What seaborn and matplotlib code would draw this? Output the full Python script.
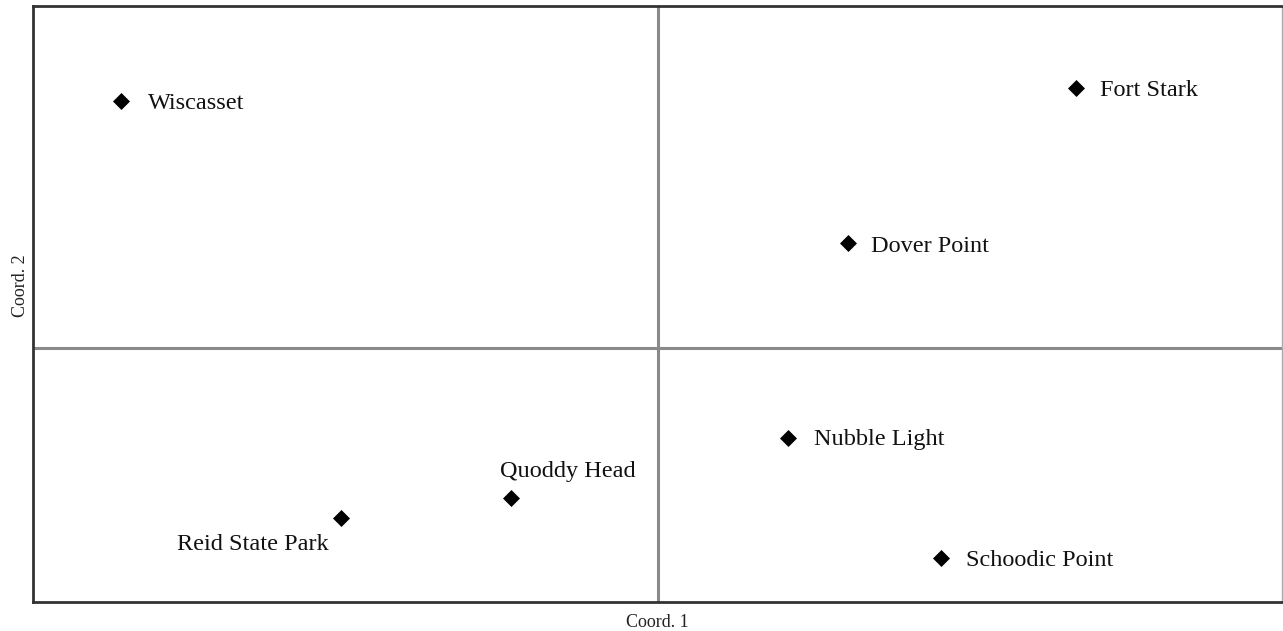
import matplotlib
matplotlib.use("Agg")
import matplotlib.pyplot as plt
import seaborn as sns
import pandas as pd

# Site ordination scores (principal coordinates)
sites = ["Wiscasset", "Fort Stark", "Dover Point", "Nubble Light",
         "Schoodic Point", "Quoddy Head", "Reid State Park"]
coord1 = [-0.215, 0.167, 0.076, 0.052, 0.113, -0.059, -0.127]
coord2 = [0.099, 0.104, 0.042, -0.036, -0.084, -0.060, -0.068]

df = pd.DataFrame({"site": sites, "c1": coord1, "c2": coord2})

sns.set_theme(style="white")
plt.rcParams["font.family"] = ["Liberation Serif", "DejaVu Serif"]

fig = plt.figure(figsize=(12.83, 6.31), dpi=100)
ax = fig.add_axes([33 / 1283, 29 / 631, 1249 / 1283, 596 / 631])

# Reference axes through the origin
ax.axvline(0, color="#8a8a8a", lw=2.2, zorder=1)
ax.axhline(0, color="#8a8a8a", lw=2.2, zorder=1)

sns.scatterplot(data=df, x="c1", y="c2", marker="D", s=75, color="black",
                linewidth=0, ax=ax, zorder=3, legend=False)

ax.set_xlim(-0.25, 0.2496)
ax.set_ylim(-0.1016, 0.1368)
ax.set_xticks([])
ax.set_yticks([])

# Label placement per site: (dx, dy) in pixels and horizontal alignment
offsets = {
    "Wiscasset": (27, -3, "left"),
    "Fort Stark": (24, -2, "left"),
    "Dover Point": (23, -3, "left"),
    "Nubble Light": (26, -2, "left"),
    "Schoodic Point": (25, -2, "left"),
    "Quoddy Head": (-10, 27, "left"),
    "Reid State Park": (-12, -26, "right"),
}
for name, x, y in zip(sites, coord1, coord2):
    dx, dy, ha = offsets[name]
    ax.annotate(name, (x, y), xytext=(dx, dy), textcoords="offset pixels",
                ha=ha, va="center", fontsize=17.5, color="#111111")

ax.set_xlabel("Coord. 1", fontsize=13, color="#222222")
ax.set_ylabel("Coord. 2", fontsize=13, color="#222222")
ax.xaxis.set_label_coords(0.5, -0.02)
ax.yaxis.set_label_coords(-0.003, 0.53)

for side in ["left", "top", "bottom"]:
    ax.spines[side].set_color("#333333")
    ax.spines[side].set_linewidth(2.0)
ax.spines["right"].set_color("#aaaaaa")
ax.spines["right"].set_linewidth(1.0)

fig.savefig("out.png", dpi=100, facecolor="white")
